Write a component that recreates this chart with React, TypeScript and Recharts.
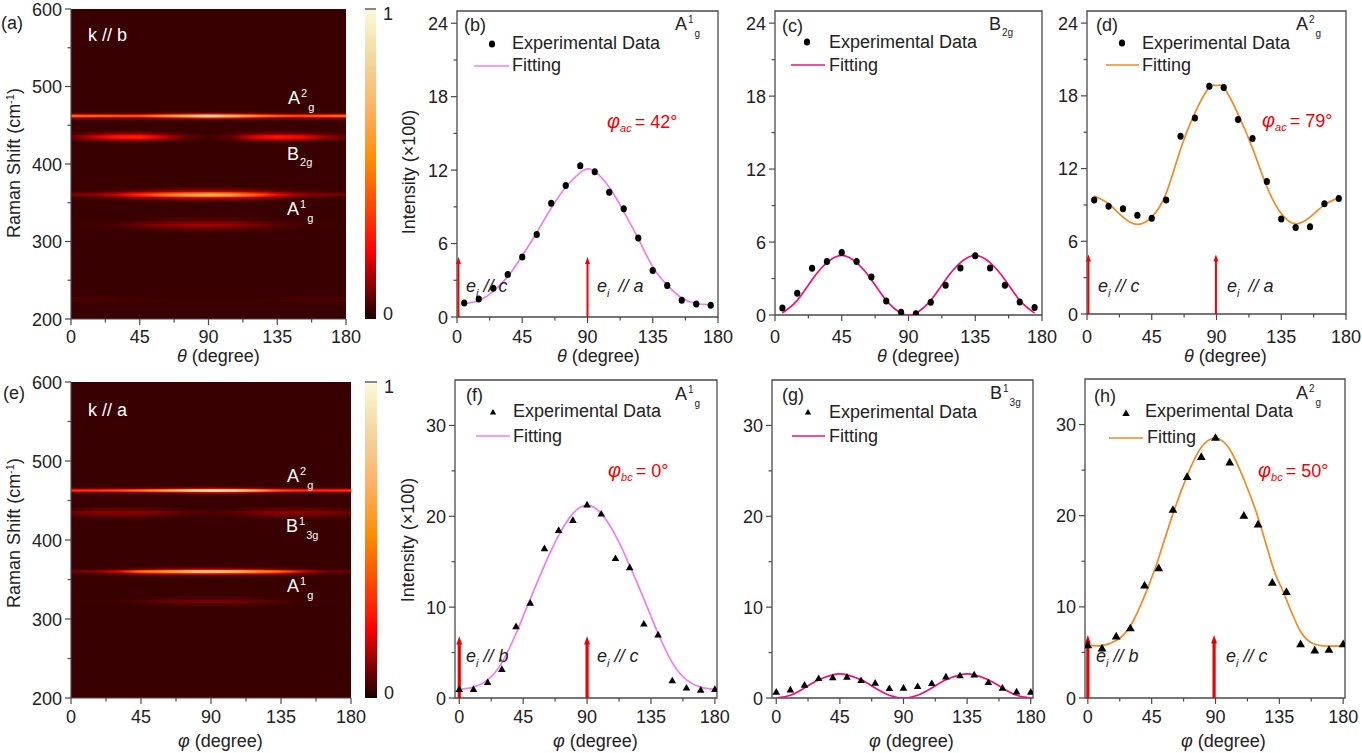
import React from "react";
import { ComposedChart, Line, Scatter, XAxis, YAxis, ReferenceArea, ReferenceLine } from "recharts";

const FONT = "'Liberation Sans', Arial, sans-serif";
const INK = "#222";
const AXIS = "#4a4a4a";
const PINK = "#f07df0";
const ROSE = "#f0107e";
const ORANGE = "#f28a1e";

// angles of the measured points and of the read-off fit curves
const thetaPoints = [5, 15, 25, 35, 45, 55, 65, 75, 85, 95, 105, 115, 125, 135, 145, 155, 165, 175];
const thetaFit = [5, 15, 25, 35, 45, 55, 65, 75, 85, 90, 95, 105, 115, 125, 135, 145, 155, 165, 175];
const phiPoints = [0, 10, 20, 30, 40, 50, 60, 70, 80, 90, 100, 110, 120, 130, 140, 150, 160, 170, 180];
const phiFit = [0, 10, 20, 30, 40, 45, 50, 60, 70, 80, 90, 100, 110, 120, 130, 135, 140, 150, 160, 170, 180];

const pointsB = [1.14, 1.47, 2.34, 3.48, 4.9, 6.75, 9.3, 10.75, 12.35, 11.86, 10.2, 8.84, 6.45, 3.8, 2.58, 1.36, 1.06, 0.95];
const fitB = [1.1, 1.35, 2.1, 3.3, 5.0, 6.9, 8.9, 10.6, 11.8, 12.1, 11.9, 10.6, 8.6, 6.4, 4.1, 2.6, 1.55, 1.1, 1.0];
const pointsC = [0.58, 1.78, 3.84, 4.4, 5.15, 4.4, 3.13, 1.15, 0.22, 0.1, 1.04, 2.44, 3.87, 4.88, 3.87, 2.44, 1.07, 0.62];
const fitC = [0.15, 1.2, 2.9, 4.3, 4.9, 4.3, 2.9, 1.2, 0.15, 0, 0.15, 1.2, 2.9, 4.3, 4.9, 4.3, 2.9, 1.2, 0.15];
const pointsD = [9.41, 8.89, 8.69, 8.15, 7.9, 9.41, 14.67, 16.18, 18.8, 18.68, 16.05, 14.48, 10.94, 7.84, 7.13, 7.2, 9.1, 9.54];
const fitD = [9.74, 9.1, 8.0, 7.4, 8.0, 9.95, 13.6, 16.6, 18.7, 18.85, 18.7, 16.5, 13.7, 10.5, 8.3, 7.45, 8.0, 9.0, 9.6];
const pointsF = [1.0, 1.0, 1.76, 3.2, 7.9, 10.5, 16.5, 18.5, 19.6, 21.3, 20.3, 15.4, 14.4, 8.2, 7.0, 1.95, 1.15, 0.92, 1.0];
const fitF = [0.95, 1.2, 2.0, 3.9, 7.1, 9.0, 10.9, 14.6, 17.9, 20.3, 21.2, 20.3, 17.9, 14.6, 10.9, 9.0, 7.1, 3.9, 2.0, 1.2, 0.95];
const pointsG = [0.7, 0.95, 1.47, 2.2, 2.3, 2.35, 1.98, 1.69, 1.1, 1.14, 1.32, 1.65, 2.38, 2.5, 2.6, 1.76, 1.14, 0.73, 0.7];
const fitG = [0, 0.3, 1.1, 2.0, 2.55, 2.65, 2.55, 2.0, 1.1, 0.3, 0, 0.3, 1.1, 2.0, 2.55, 2.65, 2.55, 2.0, 1.1, 0.3, 0];
const pointsH = [5.85, 5.5, 6.8, 7.7, 12.4, 14.3, 20.7, 24.3, 26.5, 28.6, 25.9, 20.05, 19.1, 12.7, 11.7, 5.96, 5.27, 5.34, 5.96];
const fitH = [5.8, 5.75, 6.3, 7.9, 11.2, 13.2, 15.4, 20.2, 24.4, 27.5, 28.5, 27.3, 24.0, 19.8, 14.6, 12.6, 10.8, 7.3, 5.9, 5.7, 5.75];

// heat maps: rows between shift edges, each with intensity at the columns below
const heatColumns = [0, 15, 30, 45, 60, 75, 90, 105, 120, 135, 150, 165, 180];
const bgRow = [0.03, 0.03, 0.03, 0.03, 0.03, 0.03, 0.03, 0.03, 0.03, 0.03, 0.03, 0.03, 0.03];

const heatEdgesA = [200, 222, 228, 312, 316, 319.5, 322.5, 326, 332, 352, 355, 357.5, 359.5, 361.5, 363.5, 366, 370, 428, 431, 433, 435, 437, 439, 442, 457, 458.5, 460, 461.3, 462.6, 463.9, 465.2, 466.5, 468, 600];
const heatRowsA = [
  bgRow,
  [0.05, 0.05, 0.045, 0.04, 0.035, 0.035, 0.035, 0.035, 0.035, 0.04, 0.05, 0.05, 0.05],
  bgRow,
  [0.03, 0.03, 0.03, 0.035, 0.045, 0.05, 0.05, 0.05, 0.045, 0.035, 0.03, 0.03, 0.03],
  [0.035, 0.035, 0.04, 0.055, 0.07, 0.085, 0.09, 0.085, 0.07, 0.05, 0.04, 0.035, 0.035],
  [0.035, 0.035, 0.05, 0.08, 0.11, 0.13, 0.135, 0.12, 0.095, 0.06, 0.045, 0.035, 0.035],
  [0.035, 0.035, 0.04, 0.06, 0.08, 0.095, 0.1, 0.095, 0.075, 0.05, 0.04, 0.035, 0.035],
  [0.03, 0.03, 0.03, 0.035, 0.045, 0.05, 0.05, 0.05, 0.045, 0.035, 0.03, 0.03, 0.03],
  bgRow,
  [0.03, 0.03, 0.035, 0.04, 0.055, 0.07, 0.075, 0.07, 0.055, 0.04, 0.035, 0.03, 0.03],
  [0.04, 0.045, 0.06, 0.085, 0.13, 0.155, 0.165, 0.155, 0.125, 0.075, 0.05, 0.045, 0.04],
  [0.07, 0.08, 0.13, 0.22, 0.34, 0.45, 0.52, 0.45, 0.31, 0.16, 0.09, 0.07, 0.06],
  [0.1, 0.11, 0.18, 0.32, 0.48, 0.62, 0.72, 0.62, 0.44, 0.23, 0.12, 0.1, 0.09],
  [0.07, 0.08, 0.12, 0.2, 0.3, 0.4, 0.45, 0.4, 0.27, 0.15, 0.09, 0.07, 0.06],
  [0.04, 0.045, 0.06, 0.085, 0.115, 0.14, 0.15, 0.14, 0.11, 0.075, 0.05, 0.045, 0.04],
  [0.03, 0.03, 0.035, 0.04, 0.055, 0.065, 0.07, 0.065, 0.055, 0.04, 0.035, 0.03, 0.03],
  bgRow,
  [0.04, 0.06, 0.08, 0.09, 0.06, 0.04, 0.03, 0.04, 0.07, 0.08, 0.07, 0.05, 0.04],
  [0.05, 0.11, 0.16, 0.18, 0.11, 0.05, 0.03, 0.05, 0.13, 0.18, 0.15, 0.09, 0.05],
  [0.07, 0.17, 0.27, 0.29, 0.18, 0.07, 0.04, 0.07, 0.2, 0.27, 0.23, 0.14, 0.08],
  [0.07, 0.16, 0.25, 0.27, 0.16, 0.07, 0.04, 0.07, 0.18, 0.25, 0.21, 0.12, 0.07],
  [0.05, 0.1, 0.15, 0.16, 0.1, 0.05, 0.03, 0.05, 0.11, 0.14, 0.12, 0.08, 0.05],
  [0.04, 0.06, 0.08, 0.09, 0.06, 0.04, 0.03, 0.04, 0.06, 0.08, 0.06, 0.05, 0.04],
  bgRow,
  [0.05, 0.045, 0.045, 0.045, 0.055, 0.07, 0.08, 0.07, 0.055, 0.045, 0.045, 0.05, 0.05],
  [0.11, 0.1, 0.09, 0.09, 0.14, 0.18, 0.24, 0.2, 0.14, 0.09, 0.09, 0.1, 0.12],
  [0.3, 0.28, 0.26, 0.26, 0.38, 0.52, 0.74, 0.58, 0.38, 0.26, 0.24, 0.28, 0.32],
  [0.55, 0.52, 0.5, 0.5, 0.66, 0.86, 1, 0.9, 0.66, 0.5, 0.46, 0.52, 0.58],
  [0.32, 0.3, 0.28, 0.28, 0.42, 0.58, 0.78, 0.62, 0.42, 0.29, 0.26, 0.3, 0.34],
  [0.12, 0.11, 0.1, 0.1, 0.16, 0.2, 0.26, 0.22, 0.16, 0.1, 0.1, 0.11, 0.13],
  [0.05, 0.05, 0.05, 0.05, 0.06, 0.07, 0.08, 0.07, 0.06, 0.05, 0.05, 0.05, 0.05],
  [0.035, 0.035, 0.035, 0.035, 0.04, 0.04, 0.045, 0.04, 0.04, 0.035, 0.035, 0.035, 0.035],
  bgRow,
];

const heatEdgesE = [200, 316, 320, 324.5, 329, 356, 358, 359.5, 360.8, 362.1, 363.5, 366, 428, 432, 437, 441, 459, 460.8, 462.1, 463.4, 464.7, 466, 468, 600];
const heatRowsE = [
  bgRow,
  [0.03, 0.03, 0.03, 0.035, 0.04, 0.05, 0.05, 0.05, 0.04, 0.035, 0.03, 0.03, 0.03],
  [0.03, 0.035, 0.035, 0.05, 0.07, 0.085, 0.09, 0.085, 0.07, 0.05, 0.035, 0.035, 0.03],
  [0.03, 0.03, 0.03, 0.035, 0.04, 0.05, 0.05, 0.05, 0.04, 0.035, 0.03, 0.03, 0.03],
  bgRow,
  [0.04, 0.04, 0.06, 0.12, 0.16, 0.18, 0.2, 0.18, 0.16, 0.11, 0.06, 0.04, 0.04],
  [0.07, 0.09, 0.15, 0.37, 0.47, 0.62, 0.68, 0.62, 0.47, 0.33, 0.14, 0.07, 0.07],
  [0.08, 0.11, 0.19, 0.5, 0.62, 0.8, 0.86, 0.8, 0.62, 0.45, 0.17, 0.09, 0.08],
  [0.07, 0.09, 0.15, 0.36, 0.46, 0.6, 0.65, 0.6, 0.46, 0.32, 0.14, 0.07, 0.07],
  [0.04, 0.04, 0.06, 0.11, 0.15, 0.18, 0.19, 0.18, 0.15, 0.1, 0.06, 0.04, 0.04],
  [0.03, 0.03, 0.035, 0.045, 0.055, 0.065, 0.065, 0.065, 0.055, 0.045, 0.035, 0.03, 0.03],
  bgRow,
  [0.045, 0.06, 0.065, 0.06, 0.05, 0.04, 0.035, 0.04, 0.055, 0.065, 0.065, 0.06, 0.045],
  [0.075, 0.1, 0.105, 0.1, 0.085, 0.06, 0.05, 0.06, 0.09, 0.105, 0.105, 0.09, 0.075],
  [0.045, 0.06, 0.065, 0.06, 0.05, 0.04, 0.035, 0.04, 0.055, 0.065, 0.065, 0.06, 0.045],
  bgRow,
  [0.07, 0.07, 0.08, 0.1, 0.13, 0.16, 0.2, 0.18, 0.13, 0.08, 0.07, 0.07, 0.07],
  [0.23, 0.23, 0.28, 0.36, 0.47, 0.62, 0.75, 0.68, 0.47, 0.28, 0.22, 0.22, 0.23],
  [0.33, 0.33, 0.38, 0.48, 0.64, 0.84, 0.98, 0.88, 0.64, 0.38, 0.31, 0.31, 0.33],
  [0.22, 0.22, 0.27, 0.34, 0.45, 0.6, 0.72, 0.65, 0.45, 0.27, 0.21, 0.21, 0.22],
  [0.06, 0.06, 0.08, 0.1, 0.12, 0.15, 0.19, 0.17, 0.12, 0.08, 0.06, 0.06, 0.06],
  [0.035, 0.035, 0.04, 0.04, 0.05, 0.05, 0.06, 0.05, 0.05, 0.04, 0.035, 0.035, 0.035],
  bgRow,
];

// colour bar, value to colour
const colorValues = [0, 0.11, 0.22, 0.38, 0.51, 0.67, 0.81, 0.96, 1];
const colorStops = ["#180000", "#8c0000", "#ff0000", "#ff5000", "#ff8c00", "#ffb060", "#f3cf95", "#f8f2c8", "#fdf8dc"];

const hex = (c: string) => [1, 3, 5].map((i) => parseInt(c.slice(i, i + 2), 16));
const colorOf = (v: number) => {
  let i = 0;
  while (i < colorValues.length - 2 && v > colorValues[i + 1]) i++;
  const t = (v - colorValues[i]) / (colorValues[i + 1] - colorValues[i]);
  const a = hex(colorStops[i]);
  const b = hex(colorStops[i + 1]);
  return `rgb(${a.map((x, k) => Math.round(x + (b[k] - x) * t)).join(",")})`;
};

const xTicks = [0, 22.5, 45, 67.5, 90, 112.5, 135, 157.5, 180];
const shiftTicks = [200, 250, 300, 350, 400, 450, 500, 550, 600];
const thetaYTicks = [0, 3, 6, 9, 12, 15, 18, 21, 24];
const phiYTicks = [0, 5, 10, 15, 20, 25, 30];

const xTick = (dy: number) => ({ x, y, payload }: any) => {
  const major = payload.value % 45 === 0;
  return (
    <g>
      <line x1={x} x2={x} y1={y} y2={y + (major ? 6 : 3.5)} stroke={AXIS} strokeWidth={1.2} />
      {major && (
        <text x={x} y={y + dy} textAnchor="middle" fontSize={18} fontFamily={FONT} fill={INK}>
          {payload.value}
        </text>
      )}
    </g>
  );
};

const yTick = (step: number) => ({ x, y, payload }: any) => {
  const major = payload.value % step === 0;
  return (
    <g>
      <line x1={x} x2={x - (major ? 6 : 3.5)} y1={y} y2={y} stroke={AXIS} strokeWidth={1.2} />
      {major && (
        <text x={x - 9} y={y + 6.5} textAnchor="end" fontSize={18} fontFamily={FONT} fill={INK}>
          {payload.value}
        </text>
      )}
    </g>
  );
};

const barTick = ({ x, y, payload }: any) => (
  <text x={x + 12} y={payload.value === 1 ? y + 11 : y + 1} fontSize={18} fontFamily={FONT} fill={INK} textAnchor="middle">
    {payload.value}
  </text>
);

const arrowShape = (w: number, head: number) => ({ x1, y1, x2, y2 }: any) => (
  <g>
    <line x1={x1} x2={x2} y1={y1} y2={y2 + head} stroke="#f00000" strokeWidth={w} />
    <polygon points={`${x2 - head / 2},${y2 + head * 1.4} ${x2},${y2} ${x2 + head / 2},${y2 + head * 1.4}`} fill="#f00000" />
  </g>
);

const circleMark = ({ cx, cy }: any) => <ellipse cx={cx} cy={cy} rx={3.1} ry={3.5} fill="#000" />;
const triMark = (s: number) => ({ cx, cy }: any) => (
  <polygon points={`${cx - s},${cy + s * 0.8} ${cx},${cy - s * 0.95} ${cx + s},${cy + s * 0.8}`} fill="#000" />
);

const zip = (xs: number[], ys: number[]) => xs.map((x, i) => ({ x, y: ys[i] }));

// axes keep 1px of width/height, Recharts drops a 0-sized axis
const PAD = { left: 49, top: 12, right: 20, bottom: 39 };
const outer = (box: any) => ({
  width: box.right - box.left + 50 + PAD.right,
  height: box.bottom - box.top + PAD.top + 40,
});

function FitPanel({ box, xDomain, yMax, yTicks, step, xDy, points, fit, color, mark, arrows, arrowTop, arrowW, arrowHead }: any) {
  return (
    <div style={{ position: "absolute", left: box.left - 50, top: box.top - PAD.top }}>
      <ComposedChart {...outer(box)} margin={PAD}>
        <XAxis type="number" dataKey="x" domain={xDomain} ticks={xTicks} interval={0} height={1} tickSize={0} tickMargin={0} tick={xTick(xDy)} tickLine={false} axisLine={false} allowDataOverflow />
        <YAxis type="number" dataKey="y" domain={[0, yMax]} ticks={yTicks} interval={0} width={1} tickSize={0} tickMargin={0} tick={yTick(step)} tickLine={false} axisLine={false} allowDataOverflow />
        <ReferenceArea x1={xDomain[0]} x2={xDomain[1]} y1={0} y2={yMax} fill="none" stroke={AXIS} strokeWidth={1.3} />
        {(arrows || []).map((a: number) => (
          <ReferenceLine key={a} segment={[{ x: a, y: 0 }, { x: a, y: arrowTop }]} shape={arrowShape(arrowW, arrowHead)} />
        ))}
        <Scatter data={points} shape={mark} isAnimationActive={false} />
        <Line data={fit} dataKey="y" type="natural" stroke={color} strokeWidth={1.7} dot={false} activeDot={false} isAnimationActive={false} />
      </ComposedChart>
    </div>
  );
}

function HeatPanel({ box, bar, id, edges, rows }: any) {
  const w = box.right - box.left;
  const h = box.bottom - box.top;
  const bw = bar.right - bar.left;
  return (
    <>
      <div style={{ position: "absolute", left: box.left, top: box.top, width: w, height: h, overflow: "hidden", background: colorOf(0.03) }}>
        <div style={{ filter: "blur(0.65px)" }}>
          <ComposedChart width={w} height={h} margin={{ left: 0, right: 0, top: 0, bottom: 0 }}>
            <defs>
              {rows.map((row: number[], i: number) => (
                <linearGradient key={i} id={`${id}-${i}`} x1="0" x2="1" y1="0" y2="0">
                  {row.map((v, k) => (
                    <stop key={k} offset={heatColumns[k] / 180} stopColor={colorOf(v)} />
                  ))}
                </linearGradient>
              ))}
            </defs>
            <XAxis type="number" dataKey="x" domain={[0, 180]} allowDataOverflow hide />
            <YAxis type="number" dataKey="y" domain={[200, 600]} allowDataOverflow hide />
            {rows.map((_: number[], i: number) => (
              <ReferenceArea key={i} x1={0} x2={180} y1={edges[i]} y2={Math.min(edges[i + 1] + 1, 600)} fill={`url(#${id}-${i})`} fillOpacity={1} stroke="none" />
            ))}
          </ComposedChart>
        </div>
      </div>
      <div style={{ position: "absolute", left: box.left - 50, top: box.top - PAD.top }}>
        <ComposedChart {...outer(box)} margin={PAD}>
          <XAxis type="number" dataKey="x" domain={[0, 180]} ticks={xTicks} interval={0} height={1} tickSize={0} tickMargin={0} tick={xTick(id === "a" ? 24 : 25)} tickLine={false} axisLine={{ stroke: AXIS, strokeWidth: 1.2 }} allowDataOverflow />
          <YAxis type="number" dataKey="y" domain={[200, 600]} ticks={shiftTicks} interval={0} width={1} tickSize={0} tickMargin={0} tick={yTick(100)} tickLine={false} axisLine={{ stroke: AXIS, strokeWidth: 1.2 }} allowDataOverflow />
        </ComposedChart>
      </div>
      <div style={{ position: "absolute", left: bar.left, top: box.top - 4 }}>
        <ComposedChart width={bw + 30} height={h + 12} margin={{ left: 0, right: 29, top: 4, bottom: 8 }}>
          <defs>
            <linearGradient id={`${id}-bar`} x1="0" x2="0" y1="1" y2="0">
              {colorValues.map((v, k) => (
                <stop key={k} offset={v} stopColor={colorStops[k]} />
              ))}
            </linearGradient>
          </defs>
          <XAxis type="number" dataKey="x" domain={[0, 1]} allowDataOverflow hide />
          <YAxis type="number" dataKey="y" orientation="right" domain={[0, 1]} ticks={[0, 1]} interval={0} width={1} tickSize={0} tickMargin={0} tick={barTick} tickLine={false} axisLine={false} allowDataOverflow />
          <ReferenceArea x1={0} x2={1} y1={0} y2={1} fill={`url(#${id}-bar)`} fillOpacity={1} stroke="none" />
          <ReferenceLine y={1} stroke="#888" strokeWidth={2} />
        </ComposedChart>
      </div>
    </>
  );
}

const Txt = ({ x, y, fill = INK, size = 18, children, ...rest }: any) => (
  <text x={x} y={y} fill={fill} fontSize={size} fontFamily={FONT} {...rest}>
    {children}
  </text>
);

const Mode = ({ x, y, main, sup, sub, fill = INK, small = 10 }: any) => (
  <Txt x={x} y={y} fill={fill}>
    {main}
    {sup && (
      <tspan dy={-7} dx={1} fontSize={small}>
        {sup}
      </tspan>
    )}
    <tspan dy={sup ? 13.5 : 6} dx={1} fontSize={small}>
      {sub}
    </tspan>
  </Txt>
);

const Pol = ({ x, y, axis, gap = 5 }: any) => (
  <Txt x={x} y={y} fontStyle="italic">
    e
    <tspan dy={5} fontSize={11}>
      i
    </tspan>
    <tspan dy={-5} dx={gap}>
      {"// " + axis}
    </tspan>
  </Txt>
);

const Angle = ({ x, y, sub, value }: any) => (
  <Txt x={x} y={y} fill="#f00000">
    <tspan fontStyle="italic" fontSize={20}>
      φ
    </tspan>
    <tspan fontStyle="italic" fontSize={11} dy={4}>
      {sub}
    </tspan>
    <tspan dy={-4} dx={3}>
      {"= " + value + "°"}
    </tspan>
  </Txt>
);

const AxisTitle = ({ x, y, sym }: any) => (
  <Txt x={x} y={y}>
    <tspan fontStyle="italic">{sym}</tspan>
    {" (degree)"}
  </Txt>
);

const Raman = ({ x, y }: any) => (
  <Txt x={x} y={y} textAnchor="middle" transform={`rotate(-90 ${x} ${y})`}>
    Raman Shift (cm
    <tspan dy={-6} fontSize={11}>
      -1
    </tspan>
    <tspan dy={6}>)</tspan>
  </Txt>
);

const Key = ({ mx, my, tx, ty, lx1, lx2, ly, fx, fy, color, tri }: any) => (
  <>
    {tri ? (
      <polygon points={`${mx - tri},${my + tri * 0.8} ${mx},${my - tri * 0.95} ${mx + tri},${my + tri * 0.8}`} fill="#000" />
    ) : (
      <ellipse cx={mx} cy={my} rx={3.1} ry={3.5} fill="#000" />
    )}
    <Txt x={tx} y={ty}>Experimental Data</Txt>
    <line x1={lx1} x2={lx2} y1={ly} y2={ly} stroke={color} strokeWidth={1.7} />
    <Txt x={fx} y={fy}>Fitting</Txt>
  </>
);

export default function App() {
  return (
    <div style={{ position: "absolute", left: 0, top: 0, width: 1362, height: 753, background: "#fff", overflow: "hidden" }}>
      <HeatPanel id="a" box={{ left: 71, right: 346, top: 9, bottom: 319 }} bar={{ left: 365, right: 376 }} edges={heatEdgesA} rows={heatRowsA} />
      <HeatPanel id="e" box={{ left: 71, right: 351, top: 382, bottom: 698 }} bar={{ left: 365, right: 377 }} edges={heatEdgesE} rows={heatRowsE} />

      <FitPanel box={{ left: 457, right: 718, top: 11, bottom: 317 }} xDomain={[0, 180]} yMax={25} yTicks={thetaYTicks} step={6} xDy={26} points={zip(thetaPoints, pointsB)} fit={zip(thetaFit, fitB)} color={PINK} mark={circleMark} arrows={[1, 90]} arrowTop={4.9} arrowW={2} arrowHead={5} />
      <FitPanel box={{ left: 775, right: 1042, top: 11, bottom: 315 }} xDomain={[0, 180]} yMax={25} yTicks={thetaYTicks} step={6} xDy={28} points={zip(thetaPoints, pointsC)} fit={zip(thetaFit, fitC)} color={ROSE} mark={circleMark} />
      <FitPanel box={{ left: 1087, right: 1346, top: 11, bottom: 314 }} xDomain={[0, 180]} yMax={25} yTicks={thetaYTicks} step={6} xDy={29} points={zip(thetaPoints, pointsD)} fit={zip(thetaFit, fitD)} color={ORANGE} mark={circleMark} arrows={[1, 89.6]} arrowTop={4.9} arrowW={2} arrowHead={5} />
      <FitPanel box={{ left: 455, right: 717, top: 380, bottom: 698 }} xDomain={[-3, 181.5]} yMax={35} yTicks={phiYTicks} step={10} xDy={25} points={zip(phiPoints, pointsF)} fit={zip(phiFit, fitF)} color={PINK} mark={triMark(3.8)} arrows={[0, 90]} arrowTop={6.8} arrowW={3.2} arrowHead={6} />
      <FitPanel box={{ left: 772, right: 1033, top: 380, bottom: 698 }} xDomain={[-3, 181.6]} yMax={35} yTicks={phiYTicks} step={10} xDy={25} points={zip(phiPoints, pointsG)} fit={zip(phiFit, fitG)} color={ROSE} mark={triMark(3.8)} />
      <FitPanel box={{ left: 1085, right: 1345, top: 379, bottom: 698 }} xDomain={[-2, 181.3]} yMax={35} yTicks={phiYTicks} step={10} xDy={25} points={zip(phiPoints, pointsH)} fit={zip(phiFit, fitH)} color={ORANGE} mark={triMark(4.4)} arrows={[0, 89]} arrowTop={6.9} arrowW={3.2} arrowHead={6} />

      <svg width={1362} height={753} style={{ position: "absolute", left: 0, top: 0 }}>
        <Txt x={1} y={29}>(a)</Txt>
        <Txt x={3} y={399}>(e)</Txt>
        <Txt x={88} y={41} fill="#fff">k // b</Txt>
        <Txt x={88} y={416} fill="#fff">k // a</Txt>
        <Mode x={288} y={104} main="A" sup="2" sub="g" fill="#fff" small={11} />
        <Mode x={287} y={160} main="B" sub="2g" fill="#fff" small={11} />
        <Mode x={287} y={215} main="A" sup="1" sub="g" fill="#fff" small={11} />
        <Mode x={287} y={482} main="A" sup="2" sub="g" fill="#fff" small={11} />
        <Mode x={286} y={532} main="B" sup="1" sub="3g" fill="#fff" small={11} />
        <Mode x={287} y={592} main="A" sup="1" sub="g" fill="#fff" small={11} />

        <Raman x={20} y={163} />
        <Raman x={20} y={533} />
        <AxisTitle x={177} y={362} sym="θ" />
        <AxisTitle x={178} y={747} sym="φ" />
        <AxisTitle x={557} y={362} sym="θ" />
        <AxisTitle x={877} y={362} sym="θ" />
        <AxisTitle x={1184} y={362} sym="θ" />
        <AxisTitle x={553} y={747} sym="φ" />
        <AxisTitle x={869} y={747} sym="φ" />
        <AxisTitle x={1181} y={747} sym="φ" />
        <Txt x={415} y={172} textAnchor="middle" transform="rotate(-90 415 172)">Intensity (×100)</Txt>
        <Txt x={414} y={540} textAnchor="middle" transform="rotate(-90 414 540)">Intensity (×100)</Txt>

        <Txt x={464} y={31}>(b)</Txt>
        <Mode x={675} y={30} main="A" sup="1" sub="g" />
        <Key mx={492} my={44} tx={512} ty={49} lx1={474} lx2={509} ly={66} fx={512} fy={71} color={PINK} />
        <Angle x={607} y={128} sub="ac" value={42} />
        <Pol x={466} y={292} axis="c" />
        <Pol x={597} y={292} axis="a" gap={9} />

        <Txt x={782} y={32}>(c)</Txt>
        <Mode x={989} y={30} main="B" sub="2g" />
        <Key mx={807} my={42} tx={829} ty={48} lx1={791} lx2={825} ly={65} fx={829} fy={71} color={ROSE} />

        <Txt x={1096} y={31}>(d)</Txt>
        <Mode x={1296} y={30} main="A" sup="2" sub="g" />
        <Key mx={1122} my={43} tx={1142} ty={49} lx1={1106} lx2={1139} ly={65} fx={1142} fy={71} color={ORANGE} />
        <Angle x={1262} y={127} sub="ac" value={79} />
        <Pol x={1098} y={292} axis="c" />
        <Pol x={1227} y={292} axis="a" gap={9} />

        <Txt x={466} y={401}>(f)</Txt>
        <Mode x={675} y={400} main="A" sup="1" sub="g" />
        <Key mx={493} my={412} tx={513} ty={417} lx1={476} lx2={510} ly={436} fx={513} fy={442} color={PINK} tri={3.2} />
        <Angle x={608} y={477} sub="bc" value={0} />
        <Pol x={466} y={662} axis="b" />
        <Pol x={597} y={662} axis="c" />

        <Txt x={782} y={401}>(g)</Txt>
        <Mode x={990} y={399} main="B" sup="1" sub="3g" />
        <Key mx={808} my={412} tx={829} ty={418} lx1={792} lx2={825} ly={436} fx={829} fy={442} color={ROSE} tri={3.2} />

        <Txt x={1094} y={402}>(h)</Txt>
        <Mode x={1296} y={399} main="A" sup="2" sub="g" />
        <Key mx={1126} my={413} tx={1145} ty={417} lx1={1109} lx2={1143} ly={438} fx={1147} fy={443} color={ORANGE} tri={3.7} />
        <Angle x={1258} y={477} sub="bc" value={50} />
        <Pol x={1096} y={662} axis="b" />
        <Pol x={1226} y={662} axis="c" />
      </svg>
    </div>
  );
}
